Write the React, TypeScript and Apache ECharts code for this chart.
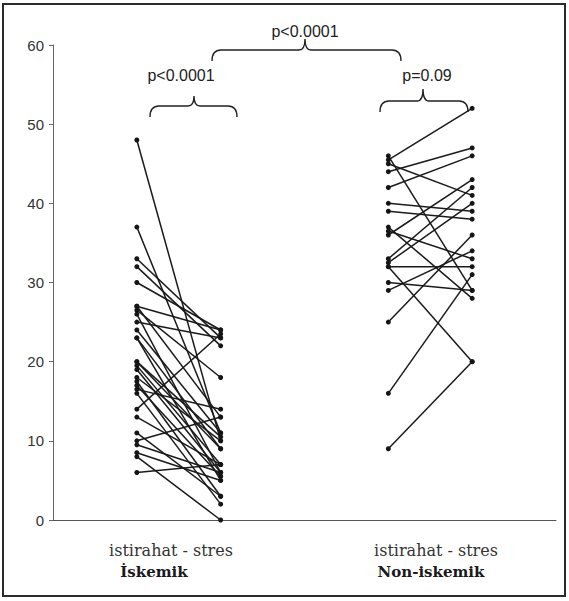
import React, { useEffect, useRef } from "react";
import * as echarts from "echarts";

// ---- data ----
const yTicks = [0, 10, 20, 30, 40, 50, 60];
const groupNames = ["İskemik", "Non-iskemik"];
const phaseLabel = "istirahat - stres";
const pLabels = ["p<0.0001", "p<0.0001", "p=0.09"];
const groupX = [
  [1, 2],
  [4, 5],
];

const ischemicRest = [48, 37, 33, 32, 30, 27, 27, 26.5, 26, 25, 24, 23, 20, 19.5, 19, 18, 17.5, 17, 16.5, 16, 14, 13, 10, 9.5, 8.5, 8, 6, 11, 20, 23];
const ischemicStress = [10, 11, 23, 22, 24, 24, 13, 18, 6, 23, 11, 5, 9, 7, 6, 10, 3, 5.5, 14, 2, 23.5, 7, 13, 6, 5, 0, 7, 3, 10.5, 9];

const nonIschemicRest = [45.5, 46, 45, 44, 42, 40, 39, 37, 36.5, 36, 33, 32.5, 32, 32, 30, 29, 25, 16, 9];
const nonIschemicStress = [52, 29, 41, 47, 46, 39, 38, 28, 33, 43, 42, 40, 20, 32, 29, 34, 36, 31, 20];

// ---- brace shapes ----
function bracePath(x0: number, x1: number, xm: number, yE: number, yA: number, yT: number) {
  const r = 9;
  const t = 6;
  return (
    `M${x0} ${yE} Q${x0} ${yA} ${x0 + r} ${yA} L${xm - t} ${yA} Q${xm} ${yA} ${xm} ${yT} ` +
    `Q${xm} ${yA} ${xm + t} ${yA} L${x1 - r} ${yA} Q${x1} ${yA} ${x1} ${yE}`
  );
}
echarts.graphic.registerShape("braceTop", echarts.graphic.extendPath(bracePath(212, 401, 305, 61, 50, 39), {}) as any);
echarts.graphic.registerShape("braceLeft", echarts.graphic.extendPath(bracePath(150, 237, 194, 117, 106, 96), {}) as any);
echarts.graphic.registerShape("braceRight", echarts.graphic.extendPath(bracePath(380, 468, 423, 112, 101, 89), {}) as any);

export default function App() {
  const ref = useRef<HTMLDivElement>(null);

  useEffect(() => {
    if (!ref.current) return;
    const chart = echarts.init(ref.current, null, { renderer: "svg" });

    const pairSets = [
      { rest: ischemicRest, stress: ischemicStress, xs: groupX[0] },
      { rest: nonIschemicRest, stress: nonIschemicStress, xs: groupX[1] },
    ];
    const series: any[] = [];
    pairSets.forEach((g, gi) => {
      g.rest.forEach((r, i) => {
        series.push({
          type: "line",
          name: `g${gi}-${i}`,
          data: [
            [g.xs[0], r],
            [g.xs[1], g.stress[i]],
          ],
          symbol: "circle",
          symbolSize: 5,
          showSymbol: true,
          itemStyle: { color: "#151515" },
          lineStyle: { color: "#1a1a1a", width: 1.5 },
          emphasis: { disabled: true },
          silent: true,
        });
      });
    });

    const braceStyle = { fill: "none", stroke: "#222", lineWidth: 1.4 };
    const pFont = { fontFamily: "Liberation Sans, Arial", fontSize: 16, fill: "#222" };
    const serifFont = "DejaVu Serif, serif";

    chart.setOption({
      animation: false,
      backgroundColor: "#fff",
      grid: { left: 53, right: 13, top: 45, bottom: 81, containLabel: false },
      xAxis: {
        type: "value",
        min: 0,
        max: 6,
        axisLine: { show: true, lineStyle: { color: "#555", width: 1 } },
        axisTick: { show: false },
        axisLabel: { show: false },
        splitLine: { show: false },
      },
      yAxis: {
        type: "value",
        min: yTicks[0],
        max: yTicks[yTicks.length - 1],
        interval: 10,
        axisLine: { show: true, lineStyle: { color: "#666", width: 1 } },
        axisTick: { show: true, length: 4, lineStyle: { color: "#666" } },
        axisLabel: { color: "#333", fontSize: 15, fontFamily: "Liberation Sans, Arial", margin: 9 },
        splitLine: { show: false },
      },
      series,
      graphic: [
        {
          type: "rect",
          shape: { x: 3, y: 4, width: 562, height: 592 },
          style: { fill: "none", stroke: "#2a2a2a", lineWidth: 2 },
          silent: true,
        },
        { type: "braceTop", x: 0, y: 0, style: braceStyle },
        { type: "braceLeft", x: 0, y: 0, style: braceStyle },
        { type: "braceRight", x: 0, y: 0, style: braceStyle },
        { type: "text", x: 305, y: 31, style: { ...pFont, text: pLabels[0], textAlign: "center", textVerticalAlign: "middle" } },
        { type: "text", x: 181, y: 75, style: { ...pFont, text: pLabels[1], textAlign: "center", textVerticalAlign: "middle" } },
        { type: "text", x: 427, y: 75, style: { ...pFont, text: pLabels[2], textAlign: "center", textVerticalAlign: "middle" } },
        { type: "text", x: 171, y: 550, style: { text: phaseLabel, fontFamily: serifFont, fontSize: 16, fill: "#333", textAlign: "center", textVerticalAlign: "middle" } },
        { type: "text", x: 436, y: 550, style: { text: phaseLabel, fontFamily: serifFont, fontSize: 16, fill: "#333", textAlign: "center", textVerticalAlign: "middle" } },
        { type: "text", x: 154, y: 572, style: { text: groupNames[0], fontFamily: serifFont, fontWeight: "bold", fontSize: 15, fill: "#1a1a1a", textAlign: "center", textVerticalAlign: "middle" } },
        { type: "text", x: 431, y: 572, style: { text: groupNames[1], fontFamily: serifFont, fontWeight: "bold", fontSize: 15, fill: "#1a1a1a", textAlign: "center", textVerticalAlign: "middle" } },
      ],
    });

    return () => chart.dispose();
  }, []);

  return (
    <div
      ref={ref}
      style={{ position: "fixed", left: 0, top: 0, width: 569, height: 601, background: "#fff" }}
    />
  );
}
